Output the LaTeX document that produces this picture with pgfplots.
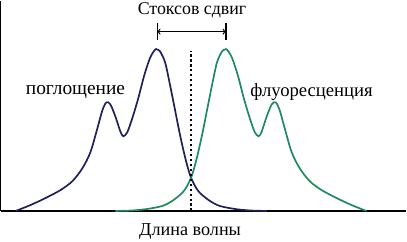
\documentclass[border=0pt]{standalone}
\usepackage{fontspec}
\setmainfont{Liberation Serif}
\usepackage{pgfplots}
\pgfplotsset{compat=1.18}
\definecolor{absc}{HTML}{20205A}
\definecolor{fluc}{HTML}{1F8A5E}
\begin{document}
\begin{tikzpicture}
\begin{axis}[
  scale only axis, width=407bp, height=211bp,
  xmin=0, xmax=407, ymin=0, ymax=211,
  axis x line=bottom, axis y line=left,
  axis line style={-, line width=1.5bp, black},
  xtick=\empty, ytick=\empty,
  clip=false,
]
\addplot[absc, line width=1.7bp, smooth, tension=0.5] table[x=x, y expr=211-\thisrow{y}] {
x y
15 211
30 205
45 198
60 190
72 181
82 168
90 152
97 128
102 110
106 102
110 104
115 116
120 131
123 136
127 132
132 118
138 98
144 75
150 57
155 49
157 49
160 51
165 62
170 85
175 110
180 135
185 157
190 175
195 186
200 193
210 201
220 206
235 209
250 210.5
267 211
};
\addplot[fluc, line width=1.7bp, smooth, tension=0.5] table[x=x, y expr=211-\thisrow{y}] {
x y
115 211
132 210.5
147 209
162 206
172 201
182 193
187 186
192 175
197 157
202 135
207 110
212 85
217 62
222 51
225 49
227 49
232 57
238 75
244 98
250 118
255 132
259 136
262 131
267 116
272 104
276 102
280 110
285 128
292 152
300 168
310 181
322 190
337 198
352 205
367 211
};
\addplot[black, line width=1.5bp, dash pattern=on 2.5bp off 2.5bp] coordinates {(191,0) (191,161)};
\addplot[black, line width=1.2bp, {<[scale=1.1]}-{>[scale=1.1]}] coordinates {(157,180) (226,180)};
\addplot[black, line width=1.2bp] coordinates {(157,172) (157,189)};
\addplot[black, line width=1.2bp] coordinates {(226,172) (226,189)};
\node[font=\fontsize{18}{20}\selectfont, inner sep=0pt] at (axis cs:192,201) {Стоксов сдвиг};
\node[font=\fontsize{19.5}{21}\selectfont, inner sep=0pt] at (axis cs:75,119) {поглощение};
\node[font=\fontsize{18.8}{21}\selectfont, inner sep=0pt] at (axis cs:312,119) {флуоресценция};
\node[font=\fontsize{18.3}{20}\selectfont, inner sep=0pt] at (axis cs:190,-21) {Длина волны};
\pgfresetboundingbox
\path (axis cs:0,-31) rectangle (axis cs:407,211);
\end{axis}
\end{tikzpicture}
\end{document}
